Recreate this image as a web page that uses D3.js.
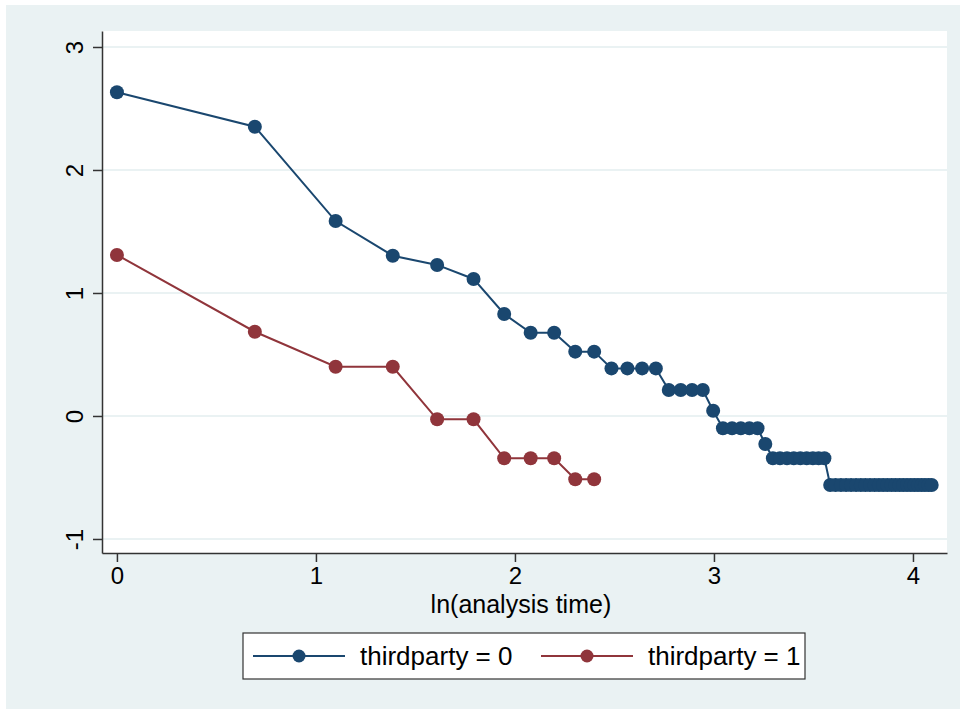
<!DOCTYPE html>
<html>
<head>
<meta charset="utf-8">
<script src="https://cdn.jsdelivr.net/npm/d3@7"></script>
<style>
  body { margin: 0; background: #fff; }
  text { font-family: "Liberation Sans", Arial, sans-serif; fill: #000; }
</style>
</head>
<body>
<div id="chart"></div>
<script>
// ln(analysis time) and log-log survival values
const xGroup0 = [0, 0.693, 1.099, 1.386, 1.609, 1.792, 1.946, 2.079, 2.197, 2.303,
    2.398, 2.485, 2.565, 2.639, 2.708, 2.773, 2.833, 2.890, 2.944, 2.996,
    3.045, 3.091, 3.135, 3.178, 3.219, 3.258, 3.296, 3.332, 3.367, 3.401,
    3.434, 3.466, 3.497, 3.526, 3.555, 3.584, 3.611, 3.638, 3.664, 3.689,
    3.714, 3.738, 3.761, 3.784, 3.807, 3.829, 3.850, 3.871, 3.892, 3.912,
    3.932, 3.951, 3.970, 3.989, 4.007, 4.025, 4.043, 4.060, 4.078, 4.094]
const yGroup0 = [2.632, 2.352, 1.585, 1.303, 1.228, 1.114, 0.829, 0.677, 0.677, 0.523,
    0.523, 0.387, 0.387, 0.387, 0.387, 0.211, 0.211, 0.211, 0.211, 0.043,
    -0.100, -0.100, -0.100, -0.100, -0.100, -0.228, -0.344, -0.344, -0.344, -0.344,
    -0.344, -0.344, -0.344, -0.344, -0.344, -0.561, -0.561, -0.561, -0.561, -0.561,
    -0.561, -0.561, -0.561, -0.561, -0.561, -0.561, -0.561, -0.561, -0.561, -0.561,
    -0.561, -0.561, -0.561, -0.561, -0.561, -0.561, -0.561, -0.561, -0.561, -0.561]

const xGroup1 = [0, 0.693, 1.099, 1.386, 1.609, 1.792, 1.946, 2.079, 2.197, 2.303, 2.398]
const yGroup1 = [1.309, 0.685, 0.400, 0.400, -0.027, -0.027, -0.344, -0.344, -0.344, -0.515, -0.515]

const seriesNames = ['thirdparty = 0', 'thirdparty = 1']
const seriesColors = ['#1a476f', '#90353b']
const xTicks = [0, 1, 2, 3, 4]
const yTicks = [-1, 0, 1, 2, 3]
const xTitle = 'ln(analysis time)'

let width = 960,
    height = 709

let svg = d3.select('#chart').append('svg')
    .attr('width', width)
    .attr('height', height)

// graph region
svg.append('rect')
    .attr('x', 6)
    .attr('y', 5)
    .attr('width', width - 6)
    .attr('height', height - 5)
    .attr('fill', '#eaf2f3')

let plot = {left: 102, right: 947, top: 31, bottom: 553}

let xScale = d3.scaleLinear().domain([-0.075, 4.171]).range([plot.left, plot.right])
let yScale = d3.scaleLinear().domain([-1.114, 3.13]).range([plot.bottom, plot.top])

svg.append('rect')
    .attr('x', plot.left)
    .attr('y', plot.top)
    .attr('width', plot.right - plot.left)
    .attr('height', plot.bottom - plot.top)
    .attr('fill', '#fff')

// grid
svg.append('g')
    .selectAll('line')
    .data(yTicks)
    .enter().append('line')
    .attr('x1', plot.left)
    .attr('x2', plot.right)
    .attr('y1', d => yScale(d))
    .attr('y2', d => yScale(d))
    .attr('stroke', '#eaf2f3')
    .attr('stroke-width', 2)

// axes
let xAxis = svg.append('g')
    .attr('transform', 'translate(0,' + plot.bottom + ')')
    .call(d3.axisBottom(xScale).tickValues(xTicks).tickSize(9).tickPadding(5).tickSizeOuter(0).tickFormat(d => String(d)))

xAxis.select('.domain').attr('stroke', '#333').attr('stroke-width', 1.5)
xAxis.selectAll('.tick line').attr('stroke', '#333').attr('stroke-width', 1.5)
xAxis.selectAll('.tick text').attr('font-size', 24).attr('font-family', '"Liberation Sans", Arial, sans-serif')

let yAxis = svg.append('g')
    .attr('transform', 'translate(' + plot.left + ',0)')
    .call(d3.axisLeft(yScale).tickValues(yTicks).tickSize(9).tickSizeOuter(0).tickFormat(d => String(d)))

yAxis.select('.domain').attr('stroke', '#333').attr('stroke-width', 1.5)
yAxis.selectAll('.tick line').attr('stroke', '#333').attr('stroke-width', 1.5)
yAxis.selectAll('.tick text')
    .attr('font-size', 24)
    .attr('font-family', '"Liberation Sans", Arial, sans-serif')
    .attr('x', 0)
    .attr('dy', 0)
    .attr('text-anchor', 'middle')
    .attr('transform', 'translate(-19,0) rotate(-90)')

svg.append('text')
    .attr('x', xScale(2.03))
    .attr('y', 613)
    .attr('text-anchor', 'middle')
    .attr('font-size', 25)
    .text(xTitle)

// series
let series = [
    {x: xGroup0, y: yGroup0},
    {x: xGroup1, y: yGroup1}
]

let line = d3.line()
    .x(d => xScale(d[0]))
    .y(d => yScale(d[1]))

series.forEach(function(s, i){

    let pts = s.x.map((v, j) => [v, s.y[j]])

    svg.append('path')
        .datum(pts)
        .attr('fill', 'none')
        .attr('stroke', seriesColors[i])
        .attr('stroke-width', 2)
        .attr('d', line)

    svg.append('g')
        .selectAll('circle')
        .data(pts)
        .enter().append('circle')
        .attr('cx', d => xScale(d[0]))
        .attr('cy', d => yScale(d[1]))
        .attr('r', 7)
        .attr('fill', seriesColors[i])
})

// legend
let legend = svg.append('g')

legend.append('rect')
    .attr('x', 243)
    .attr('y', 633)
    .attr('width', 562)
    .attr('height', 46)
    .attr('fill', '#fff')
    .attr('stroke', '#333')
    .attr('stroke-width', 1.2)

let legendX = [253, 541]

seriesNames.forEach(function(name, i){

    let lx = legendX[i]

    legend.append('line')
        .attr('x1', lx)
        .attr('x2', lx + 92)
        .attr('y1', 656)
        .attr('y2', 656)
        .attr('stroke', seriesColors[i])
        .attr('stroke-width', 2)

    legend.append('circle')
        .attr('cx', lx + 46)
        .attr('cy', 656)
        .attr('r', 6.5)
        .attr('fill', seriesColors[i])

    legend.append('text')
        .attr('x', lx + 107)
        .attr('y', 665)
        .attr('font-size', 26)
        .text(name)
})
</script>
</body>
</html>
